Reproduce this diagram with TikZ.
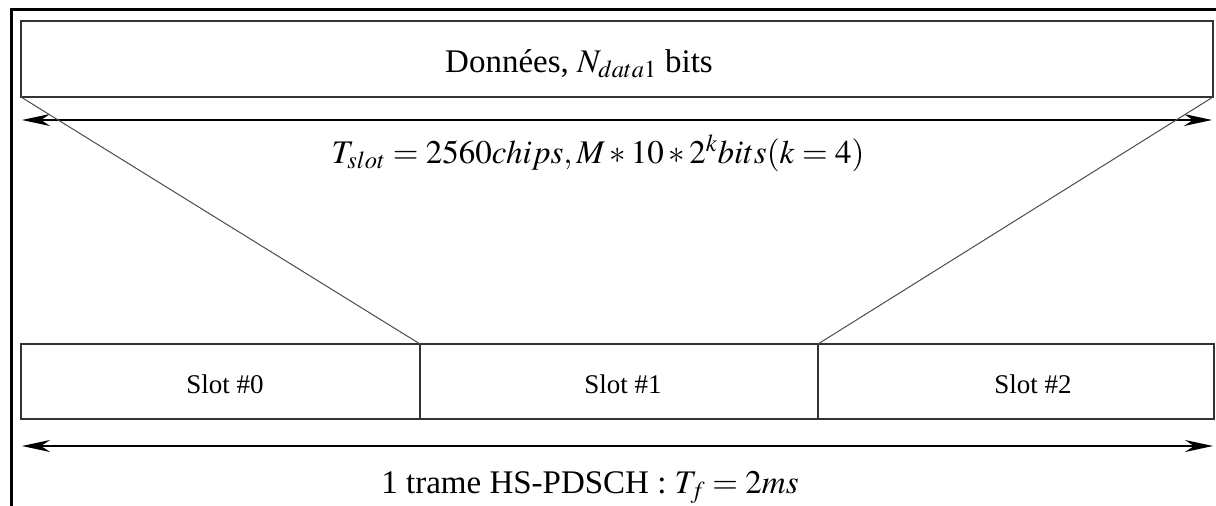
\documentclass[tikz,border=0pt]{standalone}
\usepackage{mathptmx}
\usepackage{fontspec}
\setmainfont{Liberation Serif}
\usetikzlibrary{arrows.meta}
\tikzset{
  frameline/.style={line width=3pt, black},
  boxstyle/.style={draw=black!80, line width=1.8pt},
  diag/.style={draw=black!70, line width=1pt},
  dimarrow/.style={line width=1.6pt, {Stealth[length=28pt,width=12pt,inset=9pt]}-{Stealth[length=28pt,width=12pt,inset=9pt]}},
  bigtxt/.style={font=\fontsize{33}{38}\selectfont, inner sep=0pt, anchor=base},
  slottxt/.style={font=\fontsize{27}{32}\selectfont, inner sep=0pt, anchor=base}
}
\begin{document}
\begin{tikzpicture}[x=1pt,y=-1pt]
\useasboundingbox (0,0) rectangle (1216,506);
% frame
\draw[frameline] (11,506) -- (11,9) -- (1218,9);
% top box
\coordinate (dtl) at (21,21);
\coordinate (dbr) at (1213,97);
\draw[boxstyle] (dtl) rectangle (dbr);
\coordinate (dbl) at (21,97);
\node[bigtxt] (donnees) at (579,72) {Données, $N_{data1}$ bits};
% top dimension arrow
\coordinate (a1l) at (22,120);
\coordinate (a1r) at (1212,120);
\draw[dimarrow] (a1l) -- (a1r);
\node[bigtxt] (tslot) at (598,163) {$T_{slot}=2560chips, M*10*2^kbits(k=4)$};
% slots
\coordinate (s0tl) at (21,344);
\coordinate (s1tl) at (420,344);
\coordinate (s2tl) at (818,344);
\coordinate (s0br) at (420,419);
\coordinate (s1br) at (818,419);
\coordinate (s2br) at (1214,419);
\draw[boxstyle] (s0tl) rectangle (s0br);
\draw[boxstyle] (s1tl) rectangle (s1br);
\draw[boxstyle] (s2tl) rectangle (s2br);
\node[slottxt] (slot0) at (225,393) {Slot \#0};
\node[slottxt] (slot1) at (623,393) {Slot \#1};
\node[slottxt] (slot2) at (1033,393) {Slot \#2};
% diagonals
\draw[diag] (dbl) -- (s1tl);
\draw[diag] (dbr) -- (s2tl);
% bottom arrow
\coordinate (a2l) at (22,446);
\coordinate (a2r) at (1213,446);
\draw[dimarrow] (a2l) -- (a2r);
\node[bigtxt] (trame) at (590,493) {1 trame HS-PDSCH : $T_f=2ms$};
\end{tikzpicture}
\end{document}
